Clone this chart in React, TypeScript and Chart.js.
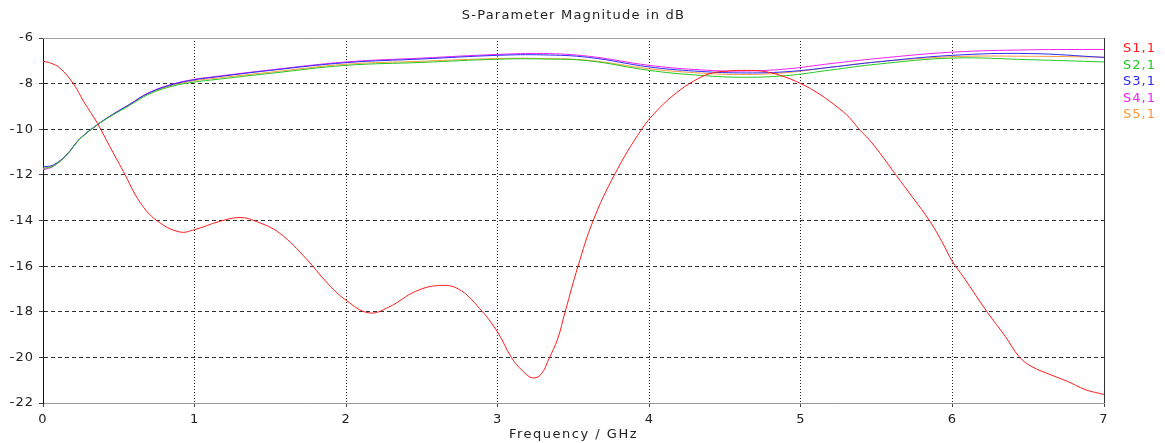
import React, { useEffect, useRef } from "react";
import { Chart, registerables } from "chart.js";

Chart.register(...registerables);

const chartTitle = "S-Parameter Magnitude in dB";
const xAxisTitle = "Frequency / GHz";
const seriesNames = ["S1,1", "S2,1", "S3,1", "S4,1", "S5,1"];
const seriesColors = ["#ff1a1a", "#22c922", "#2a2aff", "#f020f0", "#ff9a3c"];
const xTickValues = [0, 1, 2, 3, 4, 5, 6, 7];
const yTickValues = [-6, -8, -10, -12, -14, -16, -18, -20, -22];

// S1,1 (reflection)
const freqS11 = [
  0, 0.05, 0.11, 0.2, 0.27, 0.36, 0.44, 0.53, 0.64, 0.75, 0.9, 1.0, 1.16, 1.3, 1.41, 1.56,
  1.74, 1.87, 2.0, 2.15, 2.28, 2.46, 2.61, 2.74, 2.88, 3.0, 3.09, 3.165, 3.23, 3.285, 3.34,
  3.395, 3.445, 3.53, 3.63, 3.77, 3.95, 4.07, 4.18, 4.29, 4.4, 4.52, 4.64, 4.75, 4.86,
  5.0, 5.125, 5.245, 5.32, 5.39, 5.45, 5.52, 5.63, 5.74, 5.85, 5.93, 6.0, 6.07, 6.13,
  6.23, 6.35, 6.44, 6.525, 6.655, 6.765, 6.875, 6.97, 7.0,
];
const s11 = [
  -7.02, -7.1, -7.31, -8.0, -8.8, -9.75, -10.75, -11.85, -13.2, -14.0, -14.5, -14.4, -14.05, -13.87, -14.05, -14.55,
  -15.7, -16.7, -17.5, -18.05, -17.8, -17.1, -16.85, -17.0, -17.85, -18.9, -20.0, -20.6, -20.9, -20.75, -20.03,
  -19.2, -18.0, -16.0, -14.0, -12.0, -10.0, -9.05, -8.4, -7.9, -7.56, -7.45, -7.42, -7.46, -7.63,
  -8.0, -8.47, -9.05, -9.49, -10.04, -10.45, -11.03, -12.03, -13.01, -14.02, -14.92, -15.8, -16.45, -17.04,
  -18.02, -19.09, -19.97, -20.41, -20.78, -21.07, -21.41, -21.58, -21.62,
];

// S2,1 .. S5,1 (transmission)
const freqSx1 = [
  0, 0.07, 0.16, 0.24, 0.36, 0.46, 0.57, 0.7, 0.86, 1.0, 1.1, 1.5, 2.0, 2.5, 3.0, 3.3, 3.6,
  4.0, 4.3, 4.6, 4.9, 5.2, 5.5, 6.0, 6.5, 7.0,
];
const s21 = [
  -11.72, -11.6, -11.1, -10.45, -9.8, -9.38, -8.96, -8.46, -8.1, -7.93, -7.85, -7.55, -7.2, -7.07, -6.93, -6.92, -7.0,
  -7.42, -7.62, -7.72, -7.65, -7.4, -7.15, -6.88, -6.95, -7.05,
];
const s31 = [
  -11.65, -11.56, -11.08, -10.43, -9.79, -9.35, -8.92, -8.4, -8.03, -7.83, -7.74, -7.42, -7.08, -6.92, -6.76, -6.74, -6.85,
  -7.27, -7.45, -7.53, -7.48, -7.28, -7.05, -6.76, -6.68, -6.85,
];
const s41 = [
  -11.78, -11.62, -11.1, -10.45, -9.8, -9.35, -8.91, -8.39, -8.01, -7.81, -7.72, -7.4, -7.05, -6.88, -6.72, -6.68, -6.8,
  -7.2, -7.38, -7.45, -7.36, -7.12, -6.9, -6.62, -6.52, -6.5,
];
const s51 = [
  -11.72, -11.6, -11.1, -10.45, -9.8, -9.36, -8.94, -8.43, -8.06, -7.87, -7.79, -7.5, -7.15, -7.02, -6.9, -6.9, -6.98,
  -7.35, -7.52, -7.6, -7.52, -7.28, -7.05, -6.82, -6.8, -6.84,
];

const seriesFreqs = [freqS11, freqSx1, freqSx1, freqSx1, freqSx1];
const seriesValues = [s11, s21, s31, s41, s51];

const FONT = "'DejaVu Sans', Verdana, sans-serif";
const TEXT_COLOR = "#222";

const decorPlugin = {
  id: "decor",
  beforeDraw(chart: any) {
    const { ctx } = chart;
    ctx.letterSpacing = "1px";
  },
  afterDraw(chart: any) {
    const { ctx, chartArea } = chart;
    ctx.save();
    ctx.lineWidth = 1;
    ctx.strokeStyle = "#a0a0a0";
    ctx.beginPath();
    ctx.moveTo(chartArea.left, Math.round(chartArea.top) + 0.5);
    ctx.lineTo(chartArea.right, Math.round(chartArea.top) + 0.5);
    ctx.stroke();
    ctx.strokeStyle = "#333";
    ctx.beginPath();
    ctx.moveTo(Math.round(chartArea.right) + 0.5, chartArea.top);
    ctx.lineTo(Math.round(chartArea.right) + 0.5, chartArea.bottom);
    ctx.stroke();

    const cx = (chartArea.left + chartArea.right) / 2;
    ctx.fillStyle = TEXT_COLOR;
    ctx.textAlign = "center";
    ctx.textBaseline = "middle";
    ctx.letterSpacing = "1.2px";
    ctx.font = `13px ${FONT}`;
    ctx.fillText(chartTitle, cx, 16);
    ctx.letterSpacing = "1.5px";
    ctx.fillText(xAxisTitle, cx, 435);

    ctx.letterSpacing = "1px";
    ctx.font = `13px ${FONT}`;
    ctx.textAlign = "left";
    seriesNames.forEach((name, i) => {
      ctx.fillStyle = seriesColors[i];
      ctx.fillText(name, chartArea.right + 19, 49 + i * 16.4);
    });
    ctx.restore();
  },
};

export default function App() {
  const canvasRef = useRef<HTMLCanvasElement | null>(null);

  useEffect(() => {
    if (!canvasRef.current) return;
    const datasets = seriesNames.map((name, i) => ({
      label: name,
      data: seriesFreqs[i].map((f, j) => ({ x: f, y: seriesValues[i][j] })),
      borderColor: seriesColors[i],
      backgroundColor: seriesColors[i],
      borderWidth: 1,
      pointRadius: 0,
      fill: false,
      tension: 0.4,
    }));

    const chart = new Chart(canvasRef.current, {
      type: "line",
      data: { datasets },
      options: {
        animation: false,
        responsive: false,
        layout: { padding: { top: 38, right: 61, left: 0, bottom: 0 } },
        plugins: {
          legend: { display: false },
          title: { display: false },
          tooltip: { enabled: false },
        },
        scales: {
          x: {
            type: "linear",
            min: 0,
            max: 7,
            afterBuildTicks: (scale: any) => {
              scale.ticks = xTickValues.map((v) => ({ value: v }));
            },
            afterFit: (scale: any) => {
              scale.height = 40;
            },
            ticks: {
              color: TEXT_COLOR,
              font: { family: FONT, size: 13 },
              padding: 5,
              maxRotation: 0,
            },
            grid: {
              color: (ctx: any) =>
                ctx.tick && (ctx.tick.value === 0 || ctx.tick.value === 7) ? "rgba(0,0,0,0)" : "#222",
              tickColor: "#444",
              tickLength: 4,
              lineWidth: 1,
            },
            border: { display: true, color: "#9a9a9a", width: 1, dash: [1, 2] },
            title: { display: false },
          },
          y: {
            type: "linear",
            min: -22,
            max: -6,
            afterBuildTicks: (scale: any) => {
              scale.ticks = yTickValues.map((v) => ({ value: v }));
            },
            afterFit: (scale: any) => {
              scale.width = 43;
            },
            ticks: {
              color: TEXT_COLOR,
              font: { family: FONT, size: 13 },
              padding: 5,
            },
            grid: {
              color: (ctx: any) =>
                ctx.tick && (ctx.tick.value === -6 || ctx.tick.value === -22) ? "rgba(0,0,0,0)" : "#333",
              tickColor: "#444",
              tickLength: 4,
              lineWidth: 1,
            },
            border: { display: true, color: "#111", width: 1, dash: [4, 3] },
          },
        },
      },
      plugins: [decorPlugin],
    });
    return () => chart.destroy();
  }, []);

  return (
    <div style={{ position: "absolute", left: 0, top: 0, width: 1165, height: 443, background: "#fff" }}>
      <canvas ref={canvasRef} width={1165} height={443} style={{ display: "block", width: 1165, height: 443 }} />
    </div>
  );
}
